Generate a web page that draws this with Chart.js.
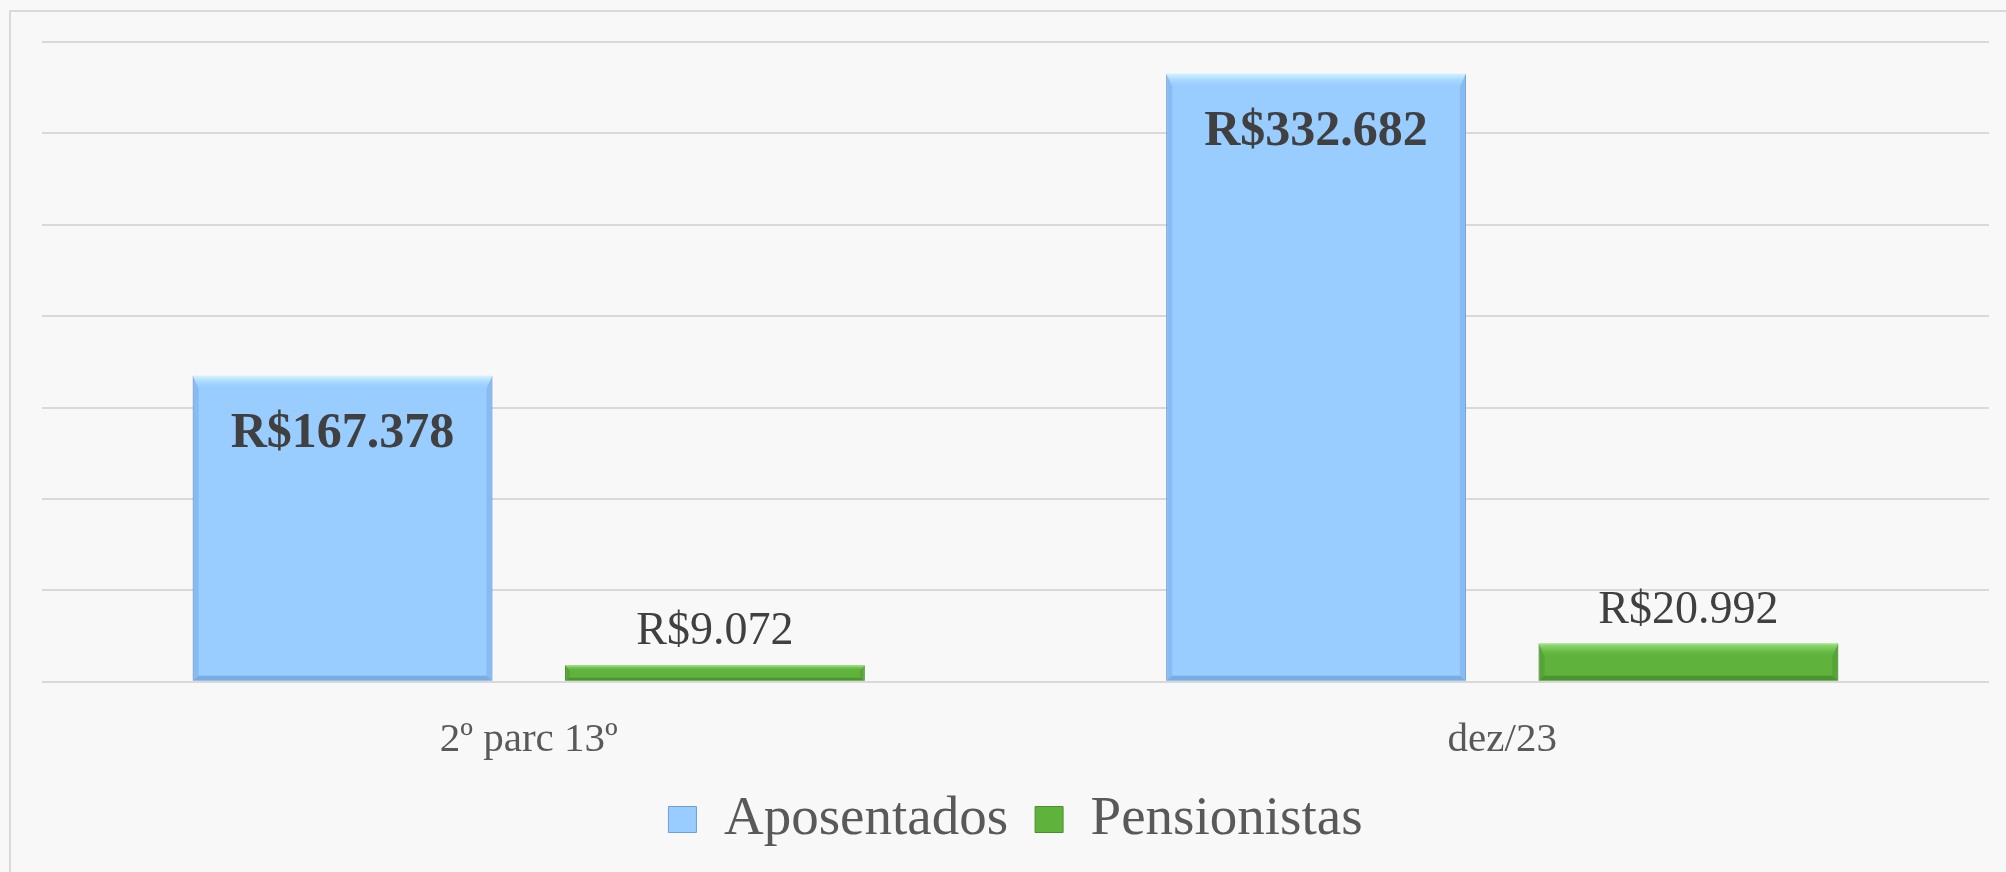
<!DOCTYPE html>
<html>
<head>
<meta charset="utf-8">
<script src="https://cdn.jsdelivr.net/npm/chart.js@4/dist/chart.umd.min.js"></script>
<style>
	html, body { margin: 0; padding: 0; background: #f8f8f8; }
	.chartBox { width: 2006px; height: 872px; }
</style>
</head>
<body>
<div class="chartBox"><canvas id="myChart"></canvas></div>
<script>
// data
const categories = ['2º parc 13º', 'dez/23'];
const aposentados = [167378, 332682];
const pensionistas = [9072, 20992];
const yTicks = [0, 50000, 100000, 150000, 200000, 250000, 300000, 350000];

function formatBRL(value) {
	return 'R$' + String(value).replace(/\B(?=(\d{3})+(?!\d))/g, '.');
}

// background + frame lines
const backgroundPlugin = {
	id: 'background',
	beforeDraw(chart) {
		const ctx = chart.ctx;
		ctx.save();
		ctx.fillStyle = '#f8f8f8';
		ctx.fillRect(0, 0, chart.width, chart.height);
		ctx.strokeStyle = '#d9d9d9';
		ctx.lineWidth = 2;
		ctx.beginPath();
		ctx.moveTo(10, chart.height);
		ctx.lineTo(10, 11);
		ctx.lineTo(chart.width, 11);
		ctx.stroke();
		ctx.restore();
	},
};

// bevel look on each bar
const bevelPlugin = {
	id: 'bevel',
	afterDatasetsDraw(chart) {
		const ctx = chart.ctx;
		const shades = [
			{ top: 'rgba(215, 248, 255, 0.95)', topEnd: 'rgba(160, 210, 255, 0)', side: 'rgba(100, 150, 210, 0.3)', bottom: 'rgba(90, 140, 200, 0.5)' },
			{ top: 'rgba(165, 235, 135, 0.9)', topEnd: 'rgba(100, 185, 65, 0)', side: 'rgba(60, 120, 40, 0.25)', bottom: 'rgba(50, 110, 30, 0.45)' },
		];
		chart.data.datasets.forEach((ds, i) => {
			const meta = chart.getDatasetMeta(i);
			meta.data.forEach((bar) => {
				const p = bar.getProps(['x', 'y', 'base', 'width'], true);
				const l = p.x - p.width / 2;
				const r = p.x + p.width / 2;
				const t = p.y;
				const b = p.base;
				const h = b - t;
				const bt = Math.min(13, h * 0.35);
				const bs = Math.min(6, h * 0.3);
				const bb = Math.min(5, h * 0.2);
				ctx.save();
				// top
				const grad = ctx.createLinearGradient(0, t, 0, t + bt);
				grad.addColorStop(0, shades[i].top);
				grad.addColorStop(1, shades[i].topEnd);
				ctx.fillStyle = grad;
				ctx.beginPath();
				ctx.moveTo(l, t);
				ctx.lineTo(r, t);
				ctx.lineTo(r - bs, t + bt);
				ctx.lineTo(l + bs, t + bt);
				ctx.closePath();
				ctx.fill();
				// sides
				ctx.fillStyle = shades[i].side;
				ctx.beginPath();
				ctx.moveTo(l, t);
				ctx.lineTo(l + bs, t + bt);
				ctx.lineTo(l + bs, b - bb);
				ctx.lineTo(l, b);
				ctx.closePath();
				ctx.fill();
				ctx.beginPath();
				ctx.moveTo(r, t);
				ctx.lineTo(r - bs, t + bt);
				ctx.lineTo(r - bs, b - bb);
				ctx.lineTo(r, b);
				ctx.closePath();
				ctx.fill();
				// bottom
				ctx.fillStyle = shades[i].bottom;
				ctx.beginPath();
				ctx.moveTo(l, b);
				ctx.lineTo(r, b);
				ctx.lineTo(r - bs, b - bb);
				ctx.lineTo(l + bs, b - bb);
				ctx.closePath();
				ctx.fill();
				ctx.restore();
			});
		});
	},
};

// value labels
const labelPlugin = {
	id: 'valueLabels',
	afterDatasetsDraw(chart) {
		const ctx = chart.ctx;
		ctx.save();
		ctx.textAlign = 'center';
		ctx.textBaseline = 'middle';
		ctx.fillStyle = '#404040';
		chart.data.datasets.forEach((ds, i) => {
			const meta = chart.getDatasetMeta(i);
			meta.data.forEach((bar, j) => {
				const text = formatBRL(ds.data[j]);
				if (i === 0) {
					ctx.font = 'bold 50px "Liberation Serif"';
					ctx.fillText(text, bar.x, bar.y + 58);
				} else {
					ctx.font = '46px "Liberation Serif"';
					ctx.fillText(text, bar.x, bar.y - 33);
				}
			});
		});
		ctx.restore();
	},
};

// setup
const data = {
	labels: categories,
	datasets: [
		{
			label: 'Aposentados',
			data: aposentados,
			backgroundColor: '#99ccff',
			borderColor: '#6f9fd6',
			borderWidth: 1,
		},
		{
			label: 'Pensionistas',
			data: pensionistas,
			backgroundColor: '#5fb33d',
			borderColor: '#4a8f2e',
			borderWidth: 1,
		},
	],
};

// config
const config = {
	type: 'bar',
	data,
	plugins: [backgroundPlugin, bevelPlugin, labelPlugin],
	options: {
		responsive: false,
		animation: false,
		layout: {
			padding: { left: 42, right: 17, top: 42, bottom: 15 },
		},
		datasets: {
			bar: {
				categoryPercentage: 0.765,
				barPercentage: 0.805,
			},
		},
		plugins: {
			tooltip: { enabled: false },
			legend: {
				position: 'bottom',
				labels: {
					font: { family: 'Liberation Serif', size: 55 },
					color: '#595959',
					boxWidth: 28,
					boxHeight: 26,
					padding: 27,
				},
			},
		},
		scales: {
			x: {
				// tick marks hidden, tickLength only gives space above the labels
				grid: { display: false, drawTicks: true, tickLength: 34 },
				border: { display: false },
				ticks: {
					font: { family: 'Liberation Serif', size: 41 },
					color: '#595959',
					padding: 0,
				},
			},
			y: {
				min: yTicks[0],
				max: yTicks[yTicks.length - 1],
				afterBuildTicks: (axis) => {
					axis.ticks = yTicks.map((v) => ({ value: v }));
				},
				grid: { color: '#d9d9d9', lineWidth: 2, drawTicks: false },
				border: { display: false },
				ticks: { display: false },
			},
		},
	},
};

// render
const canvas = document.getElementById('myChart');
canvas.width = 2006;
canvas.height = 872;
const myChart = new Chart(canvas, config);
</script>
</body>
</html>
